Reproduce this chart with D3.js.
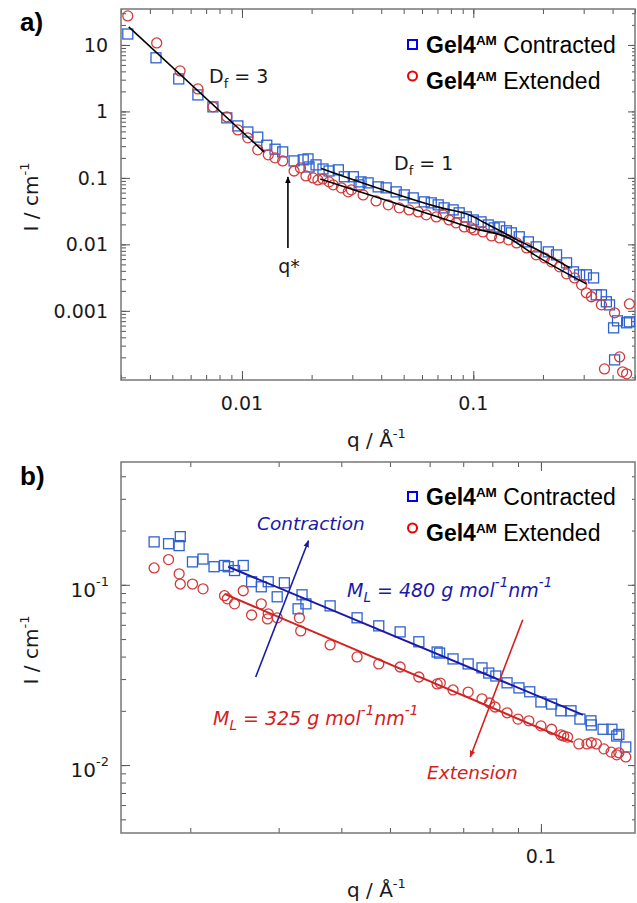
<!DOCTYPE html>
<html>
<head>
<meta charset="utf-8">
<script src="https://cdn.jsdelivr.net/npm/d3@7"></script>
<style>
body { margin: 0; background: #fff; }
text { font-family: "DejaVu Sans", sans-serif; fill: #1a1a1a; }
text.arial { font-family: "Liberation Sans", Arial, sans-serif; fill: #000; }
</style>
</head>
<body>
<svg id="chart" width="637" height="903"></svg>
<script>
// ---- panel a) data ----
const aContractedQ = [0.00321, 0.00425, 0.00533, 0.00645, 0.00749, 0.0086, 0.0096, 0.0106, 0.0117, 0.0128, 0.0139, 0.0150,
  0.0168, 0.0184, 0.0193, 0.0195, 0.0209, 0.0224, 0.0238, 0.0261, 0.0277, 0.0303, 0.0321, 0.0327, 0.0351, 0.0388,
  0.0420, 0.0464, 0.0503, 0.0550, 0.0614, 0.0658, 0.0705, 0.0748, 0.0818, 0.0869, 0.0933, 0.100, 0.108, 0.116,
  0.123, 0.130, 0.139, 0.146, 0.158, 0.173, 0.187, 0.211, 0.229, 0.253, 0.271, 0.288, 0.308, 0.331, 0.340,
  0.358, 0.376, 0.388, 0.404, 0.420, 0.460, 0.473, 0.408];
const aContractedI = [14.6, 6.4, 3.08, 1.77, 1.17, 0.80, 0.605, 0.49, 0.41, 0.31, 0.27, 0.246,
  0.180, 0.187, 0.193, 0.146, 0.157, 0.136, 0.127, 0.132, 0.104, 0.104, 0.0785, 0.0871, 0.0841, 0.0733,
  0.0708, 0.0616, 0.0555, 0.0500, 0.0436, 0.0421, 0.0393, 0.0354, 0.0330, 0.0298, 0.0259, 0.0233, 0.0218, 0.0196,
  0.0177, 0.0183, 0.0160, 0.0149, 0.0130, 0.0109, 0.00917, 0.00771, 0.00695, 0.00527, 0.00386, 0.00348, 0.00348, 0.00313, 0.00174,
  0.00174, 0.00137, 0.00123, 0.000555, 0.000708, 0.000661, 0.000684, 0.000183];

const aExtendedQ = [0.00321, 0.00428, 0.0054, 0.00645, 0.00749, 0.0086, 0.0096, 0.0106, 0.0117, 0.0130, 0.0139, 0.0150,
  0.0168, 0.0179, 0.0189, 0.0203, 0.0213, 0.0224, 0.0238, 0.0248, 0.0269, 0.0288, 0.0297, 0.0334, 0.0380, 0.0429,
  0.0479, 0.0528, 0.0578, 0.0626, 0.0692, 0.0741, 0.0786, 0.0843, 0.0914, 0.0980, 0.101, 0.110, 0.120, 0.130,
  0.142, 0.154, 0.170, 0.187, 0.203, 0.218, 0.236, 0.253, 0.274, 0.294, 0.308, 0.324, 0.358, 0.408,
  0.473, 0.429, 0.369, 0.442, 0.460];
const aExtendedI = [27.3, 10.7, 4.06, 2.18, 1.17, 0.83, 0.527, 0.40, 0.264, 0.222, 0.200, 0.180,
  0.127, 0.141, 0.107, 0.100, 0.0933, 0.0966, 0.0871, 0.0785, 0.0708, 0.0616, 0.0661, 0.0555, 0.0451, 0.0393,
  0.0354, 0.0330, 0.0308, 0.0278, 0.0259, 0.0278, 0.0233, 0.0211, 0.0183, 0.0177, 0.0165, 0.0154, 0.0134, 0.0125,
  0.0117, 0.0105, 0.00885, 0.00695, 0.00627, 0.00546, 0.00459, 0.00360, 0.00313, 0.00246, 0.00187, 0.00163, 0.00123, 0.000933,
  0.00127, 0.000203, 0.000134, 0.000121, 0.000113];

const aFit3Q = [0.00324, 0.01245];
const aFit3I = [18.7, 0.246];
const aFitContractedQ = [0.0220, 0.0727, 0.098, 0.112, 0.161, 0.197, 0.261];
const aFitContractedI = [0.139, 0.0354, 0.0269, 0.0211, 0.0109, 0.0077, 0.00444];
const aFitExtendedQ = [0.0218, 0.0727, 0.098, 0.142, 0.184, 0.308];
const aFitExtendedI = [0.0966, 0.025, 0.0177, 0.0125, 0.00695, 0.00255];
const qStar = 0.0158;
const qStarArrowI = [0.00885, 0.1035];

const aXTicks = [0.01, 0.1];
const aXLabels = ["0.01", "0.1"];
const aYTicks = [0.001, 0.01, 0.1, 1, 10];
const aYLabels = ["0.001", "0.01", "0.1", "1", "10"];

// ---- panel b) data ----
const bContractedQ = [0.01694, 0.0181, 0.0191, 0.0190, 0.0202, 0.0212, 0.0223, 0.0234, 0.0238, 0.0245, 0.0255, 0.0265,
  0.0277, 0.0286, 0.0298, 0.0308, 0.0328, 0.0334, 0.034, 0.038, 0.043, 0.0475, 0.0524, 0.0571, 0.0621, 0.0628,
  0.0668, 0.0716, 0.0763, 0.0787, 0.0813, 0.0856, 0.0904, 0.095, 0.1, 0.105, 0.1096, 0.1148, 0.1196, 0.1258,
  0.126, 0.133, 0.1385, 0.1416, 0.143, 0.1476];
const bContractedI = [0.173, 0.169, 0.185, 0.165, 0.134, 0.139, 0.126, 0.128, 0.126, 0.120, 0.128, 0.104,
  0.0975, 0.104, 0.0858, 0.1026, 0.0736, 0.088, 0.0784, 0.0764, 0.0656, 0.0592, 0.0548, 0.0483, 0.0424, 0.0418,
  0.0388, 0.0364, 0.0346, 0.0324, 0.0312, 0.0286, 0.0268, 0.0255, 0.0224, 0.0218, 0.020, 0.020, 0.018, 0.0176,
  0.0167, 0.0158, 0.0158, 0.0145, 0.0148, 0.0126];

const bExtendedQ = [0.01694, 0.0181, 0.0190, 0.0191, 0.0202, 0.0212, 0.0234, 0.0237, 0.0245, 0.0255, 0.0265, 0.0277,
  0.0286, 0.0285, 0.0298, 0.033, 0.0332, 0.038, 0.043, 0.0475, 0.0524, 0.0571, 0.0621, 0.063, 0.0668, 0.0716,
  0.0763, 0.079, 0.081, 0.0856, 0.09, 0.0946, 0.1, 0.105, 0.1096, 0.111, 0.113, 0.119, 0.1235, 0.126,
  0.129, 0.1335, 0.138, 0.1416, 0.143, 0.1476];
const bExtendedI = [0.124, 0.138, 0.115, 0.101, 0.101, 0.095, 0.087, 0.0836, 0.0784, 0.0927, 0.068, 0.0784,
  0.069, 0.0647, 0.0656, 0.0656, 0.0555, 0.0464, 0.0398, 0.0364, 0.035, 0.0308, 0.0282, 0.0285, 0.0261, 0.0254,
  0.0233, 0.0221, 0.021, 0.0195, 0.018, 0.0176, 0.0165, 0.0158, 0.0147, 0.0145, 0.0143, 0.0131, 0.0131, 0.0133,
  0.0131, 0.0123, 0.0118, 0.0114, 0.0117, 0.0111];

const bFitContractedQ = [0.0238, 0.1213];
const bFitContractedI = [0.126, 0.019];
const bFitExtendedQ = [0.0234, 0.1158];
const bFitExtendedI = [0.089, 0.0134];
const contractionArrowQ = [0.0270, 0.0344];
const contractionArrowI = [0.0308, 0.1755];
const extensionArrowQ = [0.092, 0.0723];
const extensionArrowI = [0.064, 0.0111];

const bXTicks = [0.1];
const bXLabels = ["0.1"];
const bYTicks = [0.01, 0.1];
const bYExponents = ["-2", "-1"];

const blue = "#2f62d0", red = "#d23a3a";
const svg = d3.select("#chart");

const defs = svg.append("defs");
function arrowHead(id, color) {
  defs.append("marker").attr("id", id).attr("viewBox", "0 0 10 10")
    .attr("refX", 9).attr("refY", 5).attr("markerWidth", 7).attr("markerHeight", 7)
    .attr("markerUnits", "userSpaceOnUse").attr("orient", "auto")
    .append("path").attr("d", "M0,1 L10,5 L0,9 Z").attr("fill", color);
}
arrowHead("headBlack", "#000");
arrowHead("headBlue", "#1a1aaa");
arrowHead("headRed", "#d42020");

// every 1..9 x 10^n inside the domain
function logTicks(domain) {
  const out = [];
  for (let e = Math.floor(Math.log10(domain[0])); e <= Math.ceil(Math.log10(domain[1])); e++) {
    for (let k = 1; k <= 9; k++) {
      const v = +(k * Math.pow(10, e)).toPrecision(3);
      if (v >= domain[0] && v <= domain[1]) out.push(v);
    }
  }
  return out;
}

function drawPanel(p) {
  const b = p.box;
  const g = svg.append("g");
  const x = d3.scaleLog().domain(p.xDomain).range([b.left, b.right]);
  const y = d3.scaleLog().domain(p.yDomain).range([b.bottom, b.top]);

  const put = (axis, tr, values, len) => g.append("g").attr("transform", tr)
    .call(axis.tickValues(values).tickSize(-len).tickFormat(""))
    .call(s => s.select(".domain").remove())
    .call(s => s.selectAll("line").attr("stroke", "#555").attr("stroke-width", 1));

  [[logTicks(p.xDomain), 5], [p.xTicks, 9]].forEach(([v, len]) => {
    put(d3.axisBottom(x), `translate(0,${b.bottom})`, v, len);
    put(d3.axisTop(x), `translate(0,${b.top})`, v, len);
  });
  [[logTicks(p.yDomain), 5], [p.yTicks, 9]].forEach(([v, len]) => {
    put(d3.axisLeft(y), `translate(${b.left},0)`, v, len);
    put(d3.axisRight(y), `translate(${b.right},0)`, v, len - 2);
  });

  g.append("rect").attr("x", b.left).attr("y", b.top)
    .attr("width", b.right - b.left).attr("height", b.bottom - b.top)
    .attr("fill", "none").attr("stroke", "#777").attr("stroke-width", 1.5);

  // x tick labels
  g.selectAll(".xl").data(p.xTicks).join("text")
    .attr("x", d => x(d)).attr("y", b.bottom + p.xLabelDy)
    .attr("text-anchor", "middle").attr("font-size", 19)
    .text((d, i) => p.xLabels[i]);

  // axis titles
  const xt = g.append("text").attr("x", 347).attr("y", b.bottom + p.xTitleDy).attr("font-size", 20);
  xt.append("tspan").text("q / Å");
  xt.append("tspan").attr("font-size", 13).attr("dy", -9).text("-1");

  const yt = g.append("text").attr("transform", `translate(38,${p.yTitleY}) rotate(-90)`)
    .attr("text-anchor", "middle").attr("font-size", 20);
  yt.append("tspan").text("I / cm");
  yt.append("tspan").attr("font-size", 13).attr("dy", -9).text("-1");

  // panel letter
  g.append("text").attr("class", "arial").attr("x", 20).attr("y", p.letterY)
    .attr("font-weight", "bold").attr("font-size", 26).text(p.letter);

  // legend
  const legend = [["Contracted", "square"], ["Extended", "circle"]];
  legend.forEach(([name, shape], i) => {
    const ly = p.legendY + i * 36;
    if (shape === "square") {
      g.append("rect").attr("x", 408).attr("y", ly - 13).attr("width", 9).attr("height", 9)
        .attr("fill", "none").attr("stroke", "#0000ee").attr("stroke-width", 2);
    } else {
      g.append("circle").attr("cx", 412.5).attr("cy", ly - 13).attr("r", 4.5)
        .attr("fill", "none").attr("stroke", "#ee0000").attr("stroke-width", 2);
    }
    const t = g.append("text").attr("class", "arial").attr("x", 426).attr("y", ly).attr("font-size", 23);
    t.append("tspan").attr("font-weight", "bold").text("Gel4");
    t.append("tspan").attr("font-weight", "bold").attr("font-size", 13.5).attr("dy", -8).text("AM");
    t.append("tspan").attr("dy", 8).text(" " + name);
  });

  return { g, x, y };
}

function drawPoints(pn, qs, is, color, shape) {
  const pts = d3.zip(qs, is);
  if (shape === "square") {
    pn.g.append("g").selectAll("rect").data(pts).join("rect")
      .attr("x", d => pn.x(d[0]) - 5).attr("y", d => pn.y(d[1]) - 5)
      .attr("width", 10).attr("height", 10)
      .attr("fill", "none").attr("stroke", color).attr("stroke-width", 1.3);
  } else {
    pn.g.append("g").selectAll("circle").data(pts).join("circle")
      .attr("cx", d => pn.x(d[0])).attr("cy", d => pn.y(d[1])).attr("r", 5)
      .attr("fill", "none").attr("stroke", color).attr("stroke-width", 1.3);
  }
}

function drawLine(pn, qs, is, color, width, curve, head) {
  const line = d3.line().x(d => pn.x(d[0])).y(d => pn.y(d[1])).curve(curve || d3.curveLinear);
  const path = pn.g.append("path").datum(d3.zip(qs, is)).attr("d", line)
    .attr("fill", "none").attr("stroke", color).attr("stroke-width", width);
  if (head) path.attr("marker-end", `url(#${head})`);
}

function richText(g, xPos, yPos, color, parts) {
  const t = g.append("text").attr("x", xPos).attr("y", yPos)
    .attr("font-style", "italic").style("fill", color);
  parts.forEach(([s, dy, size]) => t.append("tspan").attr("dy", dy).attr("font-size", size).text(s));
}

// ---- panel a ----
const pa = drawPanel({
  box: { left: 121, right: 635, top: 9, bottom: 380 },
  xDomain: [0.003, 0.5], yDomain: [0.0000912, 34.7],
  xTicks: aXTicks, xLabels: aXLabels, yTicks: aYTicks,
  xLabelDy: 30, xTitleDy: 67, yTitleY: 197, letter: "a)", letterY: 31, legendY: 53
});
pa.g.selectAll(".yl").data(aYTicks).join("text")
  .attr("x", 108).attr("y", d => pa.y(d) + 7).attr("text-anchor", "end").attr("font-size", 19)
  .text((d, i) => aYLabels[i]);

drawPoints(pa, aContractedQ, aContractedI, blue, "square");
drawPoints(pa, aExtendedQ, aExtendedI, red, "circle");
drawLine(pa, aFit3Q, aFit3I, "#000", 1.6);
drawLine(pa, aFitContractedQ, aFitContractedI, "#000", 1.6, d3.curveMonotoneX);
drawLine(pa, aFitExtendedQ, aFitExtendedI, "#000", 1.6, d3.curveMonotoneX);
drawLine(pa, [qStar, qStar], qStarArrowI, "#000", 1.6, null, "headBlack");

const df3 = pa.g.append("text").attr("x", 209).attr("y", 83).attr("font-size", 19);
df3.append("tspan").text("D");
df3.append("tspan").attr("font-size", 13).attr("dy", 5).text("f");
df3.append("tspan").attr("dy", -5).text(" = 3");
const df1 = pa.g.append("text").attr("x", 394).attr("y", 170).attr("font-size", 19);
df1.append("tspan").text("D");
df1.append("tspan").attr("font-size", 13).attr("dy", 5).text("f");
df1.append("tspan").attr("dy", -5).text(" = 1");
pa.g.append("text").attr("x", 289).attr("y", 273).attr("text-anchor", "middle")
  .attr("font-size", 19).text("q*");

// ---- panel b ----
const pb = drawPanel({
  box: { left: 121, right: 635, top: 462, bottom: 833 },
  xDomain: [0.01455, 0.154], yDomain: [0.0042, 0.48],
  xTicks: bXTicks, xLabels: bXLabels, yTicks: bYTicks,
  xLabelDy: 30, xTitleDy: 64, yTitleY: 650, letter: "b)", letterY: 485, legendY: 505
});
bYTicks.forEach((d, i) => {
  const t = pb.g.append("text").attr("x", 109).attr("y", pb.y(d) + 12)
    .attr("text-anchor", "end").attr("font-size", 20);
  t.append("tspan").text("10");
  t.append("tspan").attr("font-size", 13).attr("dy", -11).text(bYExponents[i]);
});

drawPoints(pb, bContractedQ, bContractedI, blue, "square");
drawPoints(pb, bExtendedQ, bExtendedI, red, "circle");
drawLine(pb, bFitContractedQ, bFitContractedI, "#1a1aaa", 2);
drawLine(pb, bFitExtendedQ, bFitExtendedI, "#d42020", 2);
drawLine(pb, contractionArrowQ, contractionArrowI, "#1a1aaa", 1.6, null, "headBlue");
drawLine(pb, extensionArrowQ, extensionArrowI, "#d42020", 1.6, null, "headRed");

richText(pb.g, 257, 530, "#1a1aaa", [["Contraction", 0, 18.5]]);
richText(pb.g, 427, 779, "#d42020", [["Extension", 0, 18.5]]);
const mlParts = n => [["M", 0, 19], ["L", 5, 13.5], [" = " + n + " g mol", -5, 19], ["-1", -10, 13.5], ["nm", 10, 19], ["-1", -10, 13.5]];
richText(pb.g, 347, 597, "#1a1aaa", mlParts(480));
richText(pb.g, 213, 725, "#d42020", mlParts(325));
</script>
</body>
</html>
